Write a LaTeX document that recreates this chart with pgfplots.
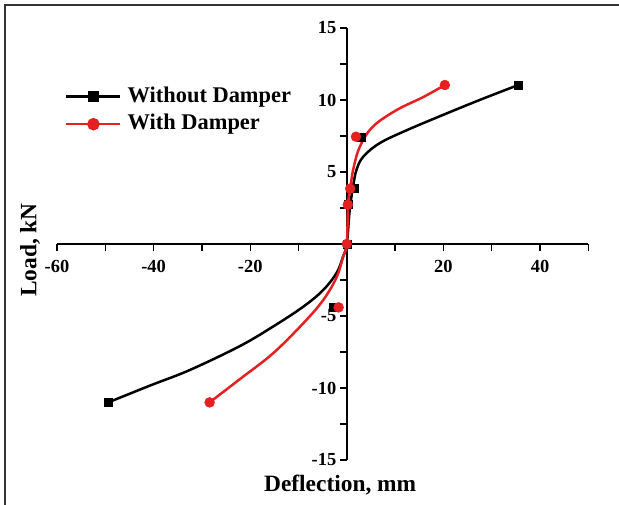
\documentclass[border=0pt]{standalone}
\usepackage{pgfplots}
\pgfplotsset{compat=1.18}
\usepackage{fontspec}
\setmainfont{Liberation Serif}
\definecolor{dred}{RGB}{228,32,32}
\begin{document}
\begin{tikzpicture}
\useasboundingbox (0,0) rectangle (619bp,505bp);
\draw[line width=2bp, black!80] (5bp,0) -- (5bp,500bp) -- (619bp,500bp);
\begin{axis}[
  at={(57bp,45bp)}, anchor=south west,
  scale only axis, width=531.3bp, height=432bp,
  xmin=-60, xmax=50, ymin=-15, ymax=15,
  axis lines=middle,
  axis line style={-, line width=1.4bp},
  xtick={-60,-40,-20,0,20,40},
  minor xtick={-50,-30,-10,10,30,50},
  ytick={-15,-10,-5,0,5,10,15},
  minor ytick={-12.5,-7.5,-2.5,2.5,7.5,12.5},
  tick align=outside,
  major tick length=7bp, minor tick length=7bp,
  every tick/.style={black, line width=1.4bp},
  /pgf/number format/assume math mode=true,
  ticklabel style={font=\fontsize{18.5}{21}\selectfont\bfseries},
  xticklabel style={yshift=-6bp},
  every axis x label/.style={at={(rel axis cs:0.533,0)}, yshift=-25bp, anchor=center},
  every axis y label/.style={at={(rel axis cs:0,0.486)}, xshift=-27bp, rotate=90, anchor=center},
  label style={font=\fontsize{23.5}{27}\selectfont\bfseries},
  xlabel={Deflection, mm},
  ylabel={Load, kN},
  legend style={at={(rel axis cs:0,1)}, anchor=north west, xshift=8bp, yshift=-56bp,
    draw=none, fill=none, inner sep=0pt, row sep=2.5bp,
    font=\fontsize{22.5}{26}\selectfont\bfseries,
    nodes={inner sep=2bp, text height=16bp, text depth=5bp},
    /tikz/every odd column/.append style={column sep=4bp}},
  legend cell align=left,
  legend image code/.code={\draw[mark repeat=2,mark phase=2,#1] plot coordinates {(0bp,0bp)(27bp,0bp)(54bp,0bp)};},
  clip=false,
]
% legend entries
\addlegendimage{black, line width=2.5bp, mark=square*, mark size=4bp, mark options={solid}}
\addlegendentry{Without Damper}
\addlegendimage{dred, line width=2.5bp, mark=*, mark size=5bp, mark options={solid}}
\addlegendentry{With Damper}
% Without damper curve
\addplot[black, line width=2.5bp, smooth, tension=0.6, forget plot] coordinates {
(-49.4,-11.0) (-40.5,-9.8) (-32.5,-8.75) (-22.2,-7.1) (-15.3,-5.74) (-9.0,-4.35) (-4.9,-3.2)
(-2.1,-2.0) (-0.77,-0.88) (0,0)
(0.6,2.36) (1.3,4.0) (2.0,5.14) (3.4,6.06) (6.8,7.0) (12.4,7.9) (19.9,8.96) (27.5,10.0) (35.5,11.04)};
% With damper curve
\addplot[dred, line width=2.5bp, smooth, tension=0.6, forget plot] coordinates {
(-28.4,-11.0) (-22.2,-9.4) (-15.3,-7.6) (-9.0,-5.5) (-4.9,-3.9) (-2.1,-2.3) (-0.77,-0.88) (0,0)
(0.27,2.8) (0.75,3.87) (1.3,5.14) (2.7,6.76) (5.4,8.15) (10.3,9.3) (15.8,10.2) (20.3,11.04)};
% markers
\addplot[only marks, black, mark=square*, mark size=4bp, forget plot] coordinates {
(-49.4,-11.0) (-2.8,-4.4) (0,0) (0.25,2.73) (1.5,3.85) (2.9,7.45) (35.5,11.04)};
\addplot[only marks, dred, mark=*, mark size=5bp, forget plot] coordinates {
(-28.4,-11.0) (-1.7,-4.4) (0,0) (0.2,2.73) (0.7,3.85) (1.9,7.45) (20.3,11.04)};
\end{axis}
\end{tikzpicture}
\end{document}
